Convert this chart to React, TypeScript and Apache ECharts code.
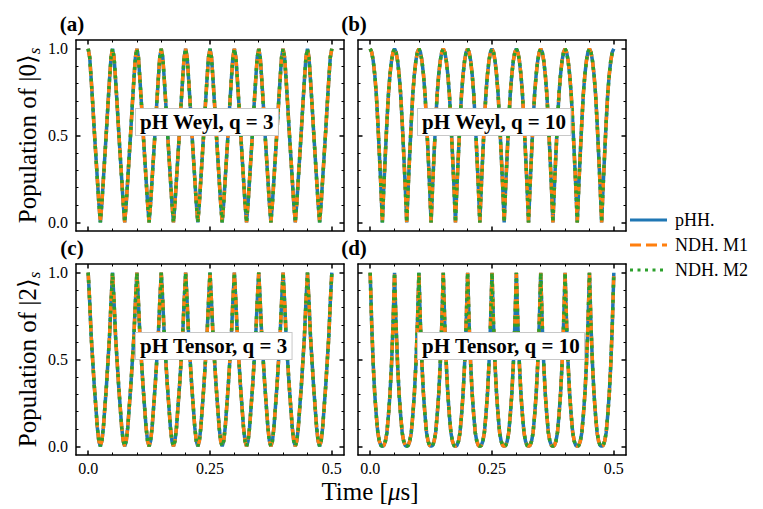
import React, { useEffect, useRef } from 'react';
import * as echarts from 'echarts';

// ---------- data ----------
const seriesNames = ['pHH.', 'NDH. M1', 'NDH. M2'];
const seriesColors = ['#1f77b4', '#ff7f0e', '#2ca02c'];
const panelTitles = ['pH Weyl, q = 3', 'pH Weyl, q = 10', 'pH Tensor, q = 3', 'pH Tensor, q = 10'];
const panelTags = ['(a)', '(b)', '(c)', '(d)'];
const yAxisTitles = ['0', '2'];

const periodUs = 0.05; // one oscillation (peak -> minimum -> peak) in µs
const periodCount = 10;

// population over one period (17 samples, peak -> minimum -> peak), read per panel
const weylQ3Period = [1.0, 0.95, 0.82, 0.68, 0.53, 0.39, 0.25, 0.11, 0.0, 0.11, 0.25, 0.39, 0.53, 0.68, 0.82, 0.95, 1.0];
const weylQ10Period = [1.0, 0.98, 0.93, 0.85, 0.74, 0.58, 0.4, 0.21, 0.0, 0.21, 0.4, 0.58, 0.74, 0.85, 0.93, 0.98, 1.0];
const tensorQ3Period = [1.0, 0.83, 0.63, 0.49, 0.35, 0.23, 0.11, 0.03, 0.0, 0.03, 0.11, 0.23, 0.35, 0.49, 0.63, 0.83, 1.0];
const tensorQ10Period = [1.0, 0.7, 0.47, 0.3, 0.18, 0.08, 0.03, 0.005, 0.0, 0.005, 0.03, 0.08, 0.18, 0.3, 0.47, 0.7, 1.0];
const panelProfiles = [weylQ3Period, weylQ10Period, tensorQ3Period, tensorQ10Period];

const xMajorTicks = [0, 0.25, 0.5];
const xTickLabels = ['0.0', '0.25', '0.5'];
const xMinorTicks = [0.05, 0.1, 0.15, 0.2, 0.3, 0.35, 0.4, 0.45];
const yMajorTicks = [0, 0.5, 1];
const yTickLabels = ['0.0', '0.5', '1.0'];
const yMinorTicks = [0.1, 0.2, 0.3, 0.4, 0.6, 0.7, 0.8, 0.9];
const xRange = [-0.025, 0.525];
const yRange = [-0.05, 1.05];

// ---------- layout / style ----------
const FONT = 'Liberation Serif, Times New Roman, DejaVu Serif, serif';
const GRIDS = [
  { left: 76, top: 40, width: 268, height: 191 },
  { left: 358, top: 40, width: 268, height: 191 },
  { left: 76, top: 264, width: 268, height: 191 },
  { left: 358, top: 264, width: 268, height: 191 },
];
const lineStyles = [
  { width: 3.5, type: 'solid' as any },
  { width: 3.5, type: [11, 5] as any },
  { width: 3.5, type: [3, 4.5] as any },
];

function tile(profile: number[]) {
  const pts: number[][] = [];
  const n = profile.length - 1;
  const step = periodUs / n;
  for (let k = 0; k < periodCount; k++) {
    for (let j = 0; j < n; j++) pts.push([k * periodUs + j * step, profile[j]]);
  }
  pts.push([periodCount * periodUs, profile[n]]);
  return pts;
}

function lookup(values: number[], labels: string[], v: number) {
  for (let i = 0; i < values.length; i++) if (Math.abs(values[i] - v) < 1e-9) return labels[i];
  return '';
}

const majorTick = (vals: number[]) => ({
  show: true, inside: true, length: 4.5, customValues: vals, lineStyle: { color: '#000', width: 1.5 },
});
const minorTick = (vals: number[]) => ({
  show: true, inside: true, length: 2.5, customValues: vals, lineStyle: { color: '#000', width: 1 },
});
const frameLine = { show: true, onZero: false, lineStyle: { color: '#000', width: 1.5 } };
const hiddenLine = { show: false, onZero: false };

function buildOption() {
  const xAxis: any[] = [];
  const yAxis: any[] = [];
  const series: any[] = [];
  const graphic: any[] = [];

  GRIDS.forEach((g, gi) => {
    const bottomRow = gi >= 2;
    const leftCol = gi % 2 === 0;
    const xb = { gridIndex: gi, type: 'value', min: xRange[0], max: xRange[1], splitLine: { show: false } };
    const yb = { gridIndex: gi, type: 'value', min: yRange[0], max: yRange[1], splitLine: { show: false } };
    xAxis.push(
      {
        ...xb, position: 'bottom', axisLine: frameLine, axisTick: majorTick(xMajorTicks),
        axisLabel: {
          show: bottomRow, customValues: xMajorTicks, margin: 5, fontSize: 16, fontFamily: FONT, color: '#000',
          formatter: (v: number) => lookup(xMajorTicks, xTickLabels, v),
        },
      },
      { ...xb, position: 'bottom', axisLine: hiddenLine, axisTick: minorTick(xMinorTicks), axisLabel: { show: false } },
      { ...xb, position: 'top', axisLine: frameLine, axisTick: majorTick(xMajorTicks), axisLabel: { show: false } },
      { ...xb, position: 'top', axisLine: hiddenLine, axisTick: minorTick(xMinorTicks), axisLabel: { show: false } },
    );
    yAxis.push(
      {
        ...yb, position: 'left', axisLine: frameLine, axisTick: majorTick(yMajorTicks),
        axisLabel: {
          show: leftCol, customValues: yMajorTicks, margin: 8, fontSize: 16, fontFamily: FONT, color: '#000',
          formatter: (v: number) => lookup(yMajorTicks, yTickLabels, v),
        },
      },
      { ...yb, position: 'left', axisLine: hiddenLine, axisTick: minorTick(yMinorTicks), axisLabel: { show: false } },
      { ...yb, position: 'right', axisLine: frameLine, axisTick: majorTick(yMajorTicks), axisLabel: { show: false } },
      { ...yb, position: 'right', axisLine: hiddenLine, axisTick: minorTick(yMinorTicks), axisLabel: { show: false } },
    );

    const data = tile(panelProfiles[gi]);
    seriesNames.forEach((name, si) => {
      series.push({
        name, type: 'line', xAxisIndex: gi * 4, yAxisIndex: gi * 4, data,
        symbol: 'none', smooth: false, z: 2 + si,
        lineStyle: { color: seriesColors[si], ...lineStyles[si], cap: 'butt' },
        emphasis: { disabled: true },
      });
    });

    // panel tag
    graphic.push({
      type: 'text', x: g.left - 4, y: g.top - 16, z: 100,
      style: { text: panelTags[gi], fontSize: 21, fontWeight: 'bold', fontFamily: FONT, fill: '#000', align: 'center', verticalAlign: 'middle' },
    });
    // panel title box
    graphic.push({
      type: 'text', x: g.left + 60, y: g.top + 82, z: 100,
      style: {
        text: panelTitles[gi], fontSize: 21, fontWeight: 'bold', fontFamily: FONT, fill: '#000',
        align: 'left', verticalAlign: 'middle', backgroundColor: '#fff', borderColor: '#c8c8c8', borderWidth: 1,
        padding: [3, 4, 2, 4],
      },
    });
  });

  // y axis titles
  [0, 1].forEach((row) => {
    const g = GRIDS[row * 2];
    graphic.push({
      type: 'text', x: 27, y: g.top + g.height / 2, rotation: Math.PI / 2, z: 100,
      style: {
        text: `{n|Population of |${yAxisTitles[row]}⟩}{s|s}`,
        align: 'center', verticalAlign: 'middle', fill: '#000',
        rich: {
          n: { fontSize: 25, fontFamily: FONT, lineHeight: 32, fill: '#000' },
          s: { fontSize: 17, fontFamily: FONT, fontStyle: 'italic', verticalAlign: 'bottom', lineHeight: 19, fill: '#000' },
        },
      },
    });
  });
  // x axis title
  graphic.push({
    type: 'text', x: 370, y: 491, z: 100,
    style: {
      text: '{n|Time [}{i|μ}{n|s]}', align: 'center', verticalAlign: 'middle', fill: '#000',
      rich: {
        n: { fontSize: 25, fontFamily: FONT, fill: '#000' },
        i: { fontSize: 25, fontFamily: FONT, fontStyle: 'italic', fill: '#000' },
      },
    },
  });

  // legend
  const legendY = [220, 245, 270];
  seriesNames.forEach((name, si) => {
    graphic.push({
      type: 'line', z: 100,
      shape: { x1: 630, y1: legendY[si], x2: 667, y2: legendY[si] },
      style: {
        stroke: seriesColors[si], lineWidth: 3,
        lineDash: si === 0 ? null : (lineStyles[si].type as number[]), lineCap: 'butt',
      },
    });
    graphic.push({
      type: 'text', x: 675, y: legendY[si], z: 100,
      style: { text: name, fontSize: 18, fontFamily: FONT, fill: '#000', align: 'left', verticalAlign: 'middle' },
    });
  });

  return {
    animation: false,
    backgroundColor: '#ffffff',
    textStyle: { fontFamily: FONT },
    grid: GRIDS.map((g) => ({ ...g, containLabel: false })),
    xAxis,
    yAxis,
    series,
    graphic,
  };
}

export default function App() {
  const ref = useRef<HTMLDivElement>(null);
  useEffect(() => {
    const chart = echarts.init(ref.current as HTMLDivElement, null, { renderer: 'svg' });
    chart.setOption(buildOption() as any);
    return () => chart.dispose();
  }, []);
  return (
    <div
      ref={ref}
      style={{ position: 'fixed', left: 0, top: 0, width: 763, height: 509, background: '#fff' }}
    />
  );
}
